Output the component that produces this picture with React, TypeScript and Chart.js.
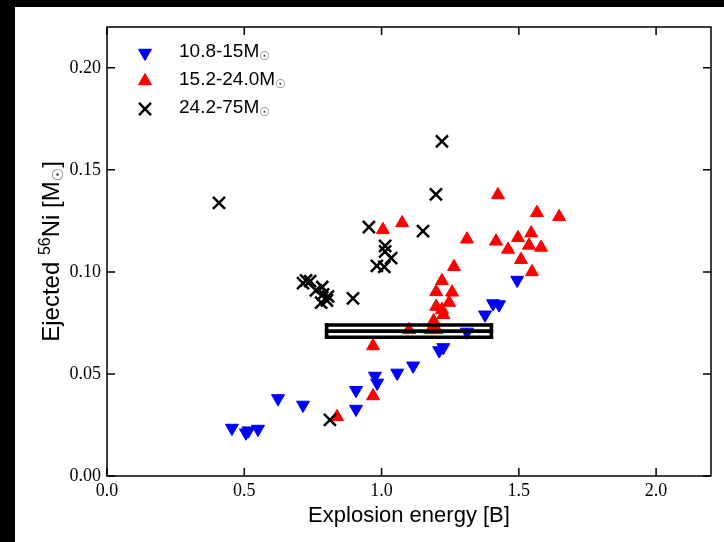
import { useEffect, useRef } from "react";
import { Chart, registerables } from "chart.js";
import { drawPoint } from "chart.js/helpers";

Chart.register(...registerables);

// Progenitor group 10.8-15 Msun
const lowEnergy = [0.455, 0.506, 0.515, 0.55, 0.623, 0.714, 0.907, 0.907, 0.976, 0.984, 1.057, 1.115, 1.21, 1.225, 1.311, 1.377, 1.406, 1.428, 1.494];
const lowNi = [0.0235, 0.0212, 0.0222, 0.023, 0.038, 0.0348, 0.0328, 0.042, 0.049, 0.0456, 0.0505, 0.054, 0.0615, 0.063, 0.0706, 0.079, 0.0845, 0.084, 0.096];

// Progenitor group 15.2-24.0 Msun
const midEnergy = [0.838, 0.969, 0.969, 1.005, 1.075, 1.10, 1.18, 1.20, 1.19, 1.225, 1.22, 1.199, 1.246, 1.199, 1.257, 1.22, 1.264, 1.311, 1.417, 1.424, 1.461, 1.497, 1.508, 1.537, 1.545, 1.548, 1.566, 1.581, 1.647];
const midNi = [0.029, 0.0392, 0.0637, 0.1206, 0.124, 0.0716, 0.0716, 0.0716, 0.076, 0.079, 0.0815, 0.083, 0.085, 0.0902, 0.090, 0.0956, 0.1025, 0.116, 0.115, 0.1377, 0.111, 0.1167, 0.106, 0.113, 0.119, 0.100, 0.129, 0.112, 0.127];

// Progenitor group 24.2-75 Msun
const highEnergy = [0.408, 1.22, 1.198, 0.954, 1.151, 1.013, 1.013, 1.035, 0.983, 1.01, 0.896, 0.714, 0.725, 0.74, 0.761, 0.784, 0.787, 0.805, 0.78, 0.801, 0.812];
const highNi = [0.1338, 0.164, 0.138, 0.122, 0.120, 0.1127, 0.110, 0.1068, 0.103, 0.1025, 0.087, 0.0945, 0.0958, 0.0955, 0.091, 0.0926, 0.089, 0.088, 0.085, 0.086, 0.0275];

// Observed range for SN 1987A
const boxEnergy = [0.8, 1.4];
const boxNi = [0.068, 0.071, 0.074];

const xTickValues = [0.0, 0.5, 1.0, 1.5, 2.0];
const yTickValues = [0.0, 0.05, 0.1, 0.15, 0.2];

const groupLabels = ["10.8-15", "15.2-24.0", "24.2-75"];

const zip = (xs: number[], ys: number[]) => xs.map((x, i) => ({ x, y: ys[i] }));

const SUN = "\u2609";
const SANS = "'Liberation Sans', Arial, sans-serif";

const pagePlugin = {
  id: "page",
  beforeDraw(chart: any) {
    const { ctx, width, height } = chart;
    ctx.save();
    ctx.fillStyle = "#fff";
    ctx.fillRect(0, 0, width, height);
    ctx.fillStyle = "#000";
    ctx.fillRect(0, 0, width, 7);
    ctx.fillRect(0, 0, 15, height);
    ctx.restore();
  },
};

const boxPlugin = {
  id: "obsBox",
  afterDatasetsDraw(chart: any) {
    const { ctx, scales } = chart;
    const x0 = scales.x.getPixelForValue(boxEnergy[0]);
    const x1 = scales.x.getPixelForValue(boxEnergy[1]);
    const ys = boxNi.map((v) => scales.y.getPixelForValue(v));
    ctx.save();
    ctx.strokeStyle = "#000";
    ctx.lineWidth = 3.6;
    ctx.lineCap = "butt";
    ys.forEach((y) => {
      ctx.beginPath();
      ctx.moveTo(x0 - 1.8, y);
      ctx.lineTo(x1 + 1.8, y);
      ctx.stroke();
    });
    [x0, x1].forEach((x) => {
      ctx.beginPath();
      ctx.moveTo(x, ys[0] + 1.8);
      ctx.lineTo(x, ys[2] - 1.8);
      ctx.stroke();
    });
    ctx.restore();
  },
};

type Run = { t: string; font: string; dy: number; color?: string };

function drawRuns(ctx: any, parts: Run[], x: number, y: number) {
  let cx = x;
  parts.forEach((p) => {
    ctx.font = p.font;
    ctx.fillStyle = p.color || "#000";
    ctx.fillText(p.t, cx, y + p.dy);
    cx += ctx.measureText(p.t).width;
  });
  return cx - x;
}

function runsWidth(ctx: any, parts: Run[]) {
  let w = 0;
  parts.forEach((p) => {
    ctx.font = p.font;
    w += ctx.measureText(p.t).width;
  });
  return w;
}

const framePlugin = {
  id: "frame",
  afterDraw(chart: any) {
    const { ctx, chartArea, scales } = chart;
    const { left, right, top, bottom } = chartArea;
    ctx.save();
    ctx.strokeStyle = "#000";
    ctx.lineWidth = 1.5;
    ctx.strokeRect(left, top, right - left, bottom - top);

    // inward ticks on all four sides
    const tl = 8;
    scales.x.ticks.forEach((t: any) => {
      const px = scales.x.getPixelForValue(t.value);
      ctx.beginPath();
      ctx.moveTo(px, bottom);
      ctx.lineTo(px, bottom - tl);
      ctx.moveTo(px, top);
      ctx.lineTo(px, top + tl);
      ctx.stroke();
    });
    scales.y.ticks.forEach((t: any) => {
      const py = scales.y.getPixelForValue(t.value);
      ctx.beginPath();
      ctx.moveTo(left, py);
      ctx.lineTo(left + tl, py);
      ctx.moveTo(right, py);
      ctx.lineTo(right - tl, py);
      ctx.stroke();
    });

    // legend
    const styles = [
      { color: "#0000ff", style: "triangle", rot: 180, r: 7.5, bw: 1 },
      { color: "#ff0000", style: "triangle", rot: 0, r: 7.5, bw: 1 },
      { color: "#000000", style: "crossRot", rot: 0, r: 8.5, bw: 2.5 },
    ];
    const rowsY = [53, 81, 109];
    styles.forEach((s, i) => {
      ctx.fillStyle = s.color;
      ctx.strokeStyle = s.color;
      ctx.lineWidth = s.bw;
      drawPoint(ctx, { pointStyle: s.style, rotation: s.rot, radius: s.r, borderWidth: s.bw } as any, 145, rowsY[i]);
      ctx.textBaseline = "alphabetic";
      ctx.textAlign = "left";
      drawRuns(
        ctx,
        [
          { t: groupLabels[i] + "M", font: "19px " + SANS, dy: 0 },
          { t: SUN, font: "12px 'DejaVu Sans', sans-serif", dy: 3, color: "#555" },
        ],
        179,
        rowsY[i] + 4
      );
    });

    // x axis title
    ctx.fillStyle = "#000";
    ctx.font = "22px " + SANS;
    ctx.textAlign = "center";
    ctx.textBaseline = "alphabetic";
    ctx.fillText("Explosion energy [B]", (left + right) / 2, 522);

    // y axis title (rotated)
    const parts: Run[] = [
      { t: "Ejected ", font: "24px " + SANS, dy: 0 },
      { t: "56", font: "16px " + SANS, dy: -9 },
      { t: "Ni [M", font: "24px " + SANS, dy: 0 },
      { t: SUN, font: "15px 'DejaVu Sans', sans-serif", dy: 4, color: "#555" },
      { t: "]", font: "24px " + SANS, dy: 0 },
    ];
    ctx.textAlign = "left";
    const w = runsWidth(ctx, parts);
    ctx.translate(59, (top + bottom) / 2);
    ctx.rotate(-Math.PI / 2);
    drawRuns(ctx, parts, -w / 2, 0);
    ctx.restore();
  },
};

export default function App() {
  const canvasRef = useRef<HTMLCanvasElement | null>(null);

  useEffect(() => {
    const canvas = canvasRef.current;
    if (!canvas) return;
    const tickFont = { family: "'Liberation Serif', 'DejaVu Serif', serif", size: 18 };
    const chart = new Chart(canvas, {
      type: "scatter",
      data: {
        datasets: [
          {
            label: groupLabels[0],
            data: zip(lowEnergy, lowNi),
            pointStyle: "triangle",
            rotation: 180,
            pointRadius: 7.5,
            borderWidth: 1,
            backgroundColor: "#0000ff",
            borderColor: "#0000ff",
            order: 3,
          },
          {
            label: groupLabels[1],
            data: zip(midEnergy, midNi),
            pointStyle: "triangle",
            pointRadius: 7.5,
            borderWidth: 1,
            backgroundColor: "#ff0000",
            borderColor: "#ff0000",
            order: 2,
          },
          {
            label: groupLabels[2],
            data: zip(highEnergy, highNi),
            pointStyle: "crossRot",
            pointRadius: 8.5,
            borderWidth: 2.5,
            backgroundColor: "#000",
            borderColor: "#000",
            order: 1,
          },
        ],
      },
      options: {
        responsive: false,
        animation: false,
        devicePixelRatio: 1,
        layout: { padding: { top: 27, right: 13, left: 0, bottom: 0 } },
        plugins: { legend: { display: false }, tooltip: { enabled: false } },
        scales: {
          x: {
            type: "linear",
            min: 0,
            max: 2.2,
            grid: { display: false, drawTicks: false },
            border: { display: false },
            afterFit(scale: any) {
              scale.height = 66;
            },
            afterBuildTicks(scale: any) {
              scale.ticks = xTickValues.map((v) => ({ value: v }));
            },
            ticks: {
              padding: 4,
              color: "#000",
              font: tickFont,
              callback: (v: any) => Number(v).toFixed(1),
            },
          },
          y: {
            type: "linear",
            min: 0,
            max: 0.22,
            grid: { display: false, drawTicks: false },
            border: { display: false },
            afterFit(scale: any) {
              scale.width = 107;
            },
            afterBuildTicks(scale: any) {
              scale.ticks = yTickValues.map((v) => ({ value: v }));
            },
            ticks: {
              padding: 6,
              color: "#000",
              font: tickFont,
              callback: (v: any) => Number(v).toFixed(2),
            },
          },
        },
      },
      plugins: [pagePlugin, boxPlugin, framePlugin],
    });
    return () => chart.destroy();
  }, []);

  return (
    <div style={{ position: "fixed", left: 0, top: 0, width: 724, height: 542 }}>
      <canvas ref={canvasRef} width={724} height={542} style={{ width: 724, height: 542, display: "block" }} />
    </div>
  );
}
